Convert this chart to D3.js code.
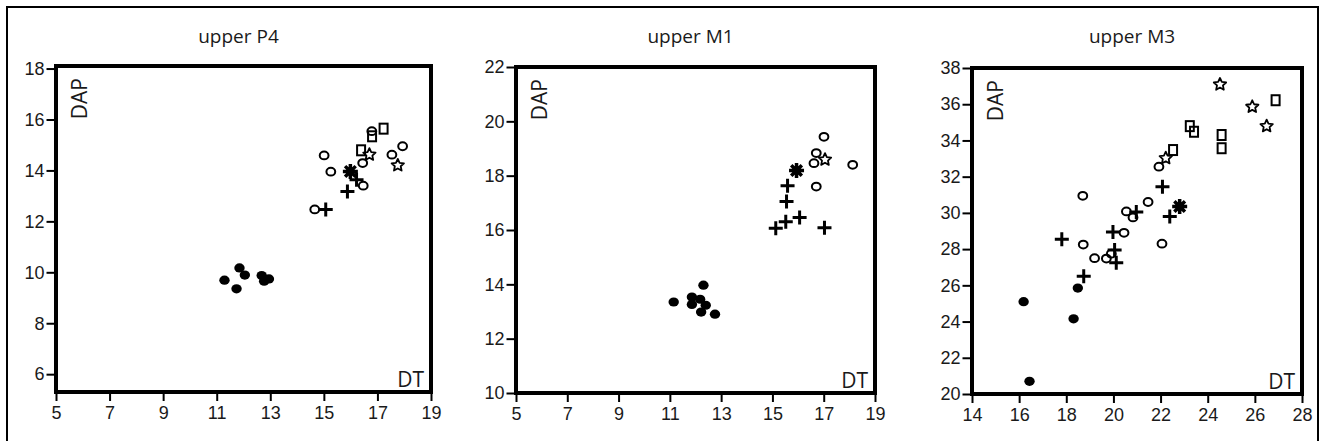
<!DOCTYPE html>
<html>
<head>
<meta charset="utf-8">
<script src="https://cdn.jsdelivr.net/npm/d3@7"></script>
<style>
  body { margin: 0; background: #fff; }
  svg { display: block; font-family: "Open Sans", "Noto Sans", sans-serif; }
  .tick text { font-size: 18px; fill: #1a1a1a; }
</style>
</head>
<body>
<svg id="chart" width="1323" height="441"></svg>
<script>
// panel titles and tick values
var titles = ["upper P4", "upper M1", "upper M3"];
var xTicksP4 = [5, 7, 9, 11, 13, 15, 17, 19];
var yTicksP4 = [6, 8, 10, 12, 14, 16, 18];
var xTicksM1 = [5, 7, 9, 11, 13, 15, 17, 19];
var yTicksM1 = [10, 12, 14, 16, 18, 20, 22];
var xTicksM3 = [14, 16, 18, 20, 22, 24, 26, 28];
var yTicksM3 = [20, 22, 24, 26, 28, 30, 32, 34, 36, 38];

// upper P4 (DT, DAP)
var p4Dots = [[11.29, 9.69], [11.85, 10.17], [12.05, 9.89], [11.74, 9.35], [12.68, 9.87], [12.77, 9.65], [12.95, 9.74]];
var p4Circles = [[15.01, 14.59], [15.26, 13.95], [14.66, 12.47], [16.45, 14.29], [16.47, 13.40], [16.79, 15.54], [17.54, 14.62], [17.94, 14.95]];
var p4Plus = [[15.88, 13.17], [15.07, 12.47], [16.22, 13.63]];
var p4Squares = [[17.23, 15.64], [16.80, 15.34], [16.39, 14.79]];
var p4Stars = [[16.70, 14.62], [17.76, 14.20]];
var p4Asterisks = [[15.99, 13.96]];

// upper M1
var m1Dots = [[11.15, 13.35], [12.31, 13.97], [11.86, 13.53], [12.18, 13.45], [11.86, 13.26], [12.40, 13.23], [12.22, 12.98], [12.76, 12.90]];
var m1Circles = [[17.01, 19.43], [16.71, 18.83], [16.62, 18.46], [16.71, 17.60], [18.13, 18.40]];
var m1Plus = [[15.59, 17.63], [15.55, 17.05], [15.52, 16.30], [16.06, 16.46], [15.13, 16.06], [17.03, 16.08]];
var m1Squares = [];
var m1Stars = [[17.05, 18.59]];
var m1Asterisks = [[15.94, 18.19]];

// upper M3
var m3Dots = [[16.19, 25.10], [16.44, 20.70], [18.31, 24.15], [18.49, 25.85]];
var m3Circles = [[18.70, 30.94], [18.72, 28.25], [19.20, 27.50], [19.70, 27.48], [19.91, 27.75], [20.45, 28.90], [20.55, 30.08], [20.83, 29.75], [21.47, 30.60], [21.93, 32.55], [22.06, 28.30]];
var m3Plus = [[17.81, 28.55], [18.74, 26.50], [19.98, 28.95], [20.05, 27.95], [20.12, 27.25], [20.97, 30.05], [22.08, 31.45], [22.39, 29.80]];
var m3Squares = [[26.88, 36.22], [23.24, 34.79], [23.42, 34.48], [22.53, 33.47], [24.59, 34.30], [24.59, 33.57]];
var m3Stars = [[24.52, 37.09], [25.89, 35.86], [26.50, 34.79], [22.22, 33.02]];
var m3Asterisks = [[22.81, 30.35]];

var svg = d3.select("#chart");

// outer border
svg.append("rect")
  .attr("x", 7).attr("y", 7)
  .attr("width", 1311).attr("height", 440)
  .attr("fill", "none").attr("stroke", "#000").attr("stroke-width", 2);

var panels = [
  { title: titles[0], xd: [5, 19], yd: [5.3, 18.1], xr: [56, 431], yr: [392, 66],
    xt: xTicksP4, yt: yTicksP4,
    groups: { dot: p4Dots, circle: p4Circles, plus: p4Plus, square: p4Squares, star: p4Stars, asterisk: p4Asterisks } },
  { title: titles[1], xd: [5, 19], yd: [10, 22], xr: [516, 875], yr: [393, 67],
    xt: xTicksM1, yt: yTicksM1,
    groups: { dot: m1Dots, circle: m1Circles, plus: m1Plus, square: m1Squares, star: m1Stars, asterisk: m1Asterisks } },
  { title: titles[2], xd: [14, 28], yd: [20, 38], xr: [972, 1302], yr: [394, 68],
    xt: xTicksM3, yt: yTicksM3,
    groups: { dot: m3Dots, circle: m3Circles, plus: m3Plus, square: m3Squares, star: m3Stars, asterisk: m3Asterisks } }
];

// hollow five-point star path
var starPts = [];
for (var k = 0; k < 10; k++) {
  var r = k % 2 === 0 ? 6.5 : 3.1;
  var ang = -Math.PI / 2 + k * Math.PI / 5;
  starPts.push([r * Math.cos(ang), r * Math.sin(ang)]);
}
var starPath = d3.line()(starPts) + "Z";

function drawMark(g, type, px, py) {
  var s = g.append("g").attr("transform", "translate(" + px + "," + py + ")");
  if (type === "dot") {
    s.append("ellipse").attr("rx", 5.2).attr("ry", 4.6).attr("fill", "#000");
  } else if (type === "circle") {
    s.append("ellipse").attr("rx", 4.4).attr("ry", 3.9)
      .attr("fill", "none").attr("stroke", "#000").attr("stroke-width", 2);
  } else if (type === "plus") {
    s.append("path").attr("d", "M-7,0H7M0,-7V7")
      .attr("stroke", "#000").attr("stroke-width", 3);
  } else if (type === "square") {
    s.append("rect").attr("x", -4).attr("y", -5).attr("width", 8).attr("height", 10)
      .attr("fill", "none").attr("stroke", "#000").attr("stroke-width", 2);
  } else if (type === "star") {
    s.append("path").attr("d", starPath)
      .attr("fill", "none").attr("stroke", "#000").attr("stroke-width", 1.8)
      .attr("stroke-linejoin", "round");
  } else if (type === "asterisk") {
    var a = "";
    for (var i = 0; i < 4; i++) {
      var t = i * Math.PI / 4;
      var dx = 7.5 * Math.cos(t), dy = 7.5 * Math.sin(t);
      a += "M" + (-dx) + "," + (-dy) + "L" + dx + "," + dy;
    }
    s.append("path").attr("d", a).attr("stroke", "#000").attr("stroke-width", 3.5);
  }
}

panels.forEach(function(p) {
  var x = d3.scaleLinear().domain(p.xd).range(p.xr);
  var y = d3.scaleLinear().domain(p.yd).range(p.yr);
  var left = p.xr[0], right = p.xr[1], top = p.yr[1], bottom = p.yr[0];
  var g = svg.append("g");

  // title
  g.append("text")
    .attr("x", (left + right) / 2 - 5).attr("y", 43)
    .attr("text-anchor", "middle")
    .style("font-size", "19px").attr("fill", "#1a1a1a")
    .text(p.title);

  // axes
  var ya = g.append("g").attr("transform", "translate(" + (left - 2) + ",0)")
    .call(d3.axisLeft(y).tickValues(p.yt).tickSize(7.5).tickPadding(2));
  var xa = g.append("g").attr("transform", "translate(0," + (bottom + 2) + ")")
    .call(d3.axisBottom(x).tickValues(p.xt).tickSize(7).tickPadding(5));
  [ya, xa].forEach(function(a) {
    a.select(".domain").remove();
    a.selectAll(".tick line").attr("stroke", "#000").attr("stroke-width", 2);
  });

  // frame
  g.append("rect")
    .attr("x", left).attr("y", top)
    .attr("width", right - left).attr("height", bottom - top)
    .attr("fill", "none").attr("stroke", "#000").attr("stroke-width", 4);

  // inner labels
  g.append("text")
    .attr("transform", "translate(" + (left + 31) + "," + (top + 12) + ") rotate(-90)")
    .attr("text-anchor", "end")
    .style("font-size", "21px").attr("fill", "#1a1a1a")
    .text("DAP");
  g.append("text")
    .attr("x", right - 7).attr("y", bottom - 5)
    .attr("text-anchor", "end")
    .style("font-size", "21px").attr("fill", "#1a1a1a")
    .text("DT");

  // marks
  Object.keys(p.groups).forEach(function(type) {
    p.groups[type].forEach(function(d) {
      drawMark(g, type, x(d[0]), y(d[1]));
    });
  });
});
</script>
</body>
</html>
